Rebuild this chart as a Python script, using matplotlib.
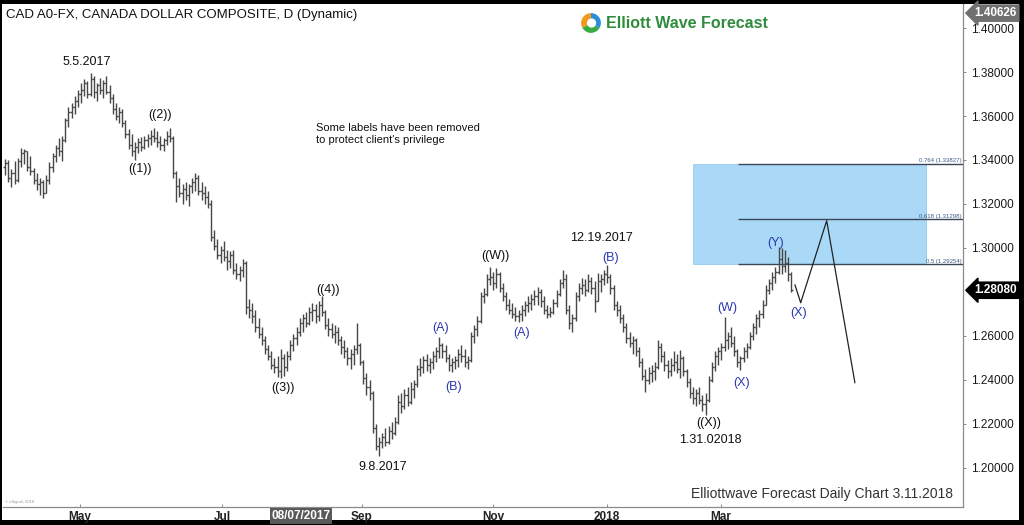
import numpy as np
import matplotlib
matplotlib.use("Agg")
import matplotlib.pyplot as plt
from matplotlib.patches import Rectangle, Wedge, Circle
import matplotlib.transforms as mtransforms

plt.rcParams['font.family'] = ['Liberation Sans', 'DejaVu Sans']

# ---------------- data (daily bars, USD/CAD) ----------------
highs = [1.3405,1.3400,1.3360,1.3395,1.3410,1.3455,1.3450,1.3440,1.3420,1.3365,
         1.3340,1.3320,1.3310,1.3330,1.3390,1.3430,1.3470,1.3500,1.3510,1.3590,
         1.3640,1.3660,1.3690,1.3720,1.3750,1.3770,1.3760,1.3795,1.3780,1.3750,
         1.3775,1.3765,1.3780,1.3740,1.3700,1.3660,1.3640,1.3630,1.3580,1.3540,
         1.3520,1.3480,1.3500,1.3505,1.3510,1.3520,1.3535,1.3545,1.3530,1.3510,
         1.3500,1.3530,1.3545,1.3510,1.3350,1.3320,1.3290,1.3300,1.3290,1.3320,
         1.3340,1.3330,1.3300,1.3280,1.3260,1.3220,1.3080,1.3040,1.3010,1.3030,
         1.2990,1.2985,1.2990,1.2930,1.2920,1.2950,1.2940,1.2770,1.2750,1.2720,
         1.2680,1.2640,1.2600,1.2560,1.2530,1.2500,1.2510,1.2540,1.2520,1.2530,
         1.2580,1.2610,1.2640,1.2680,1.2700,1.2710,1.2730,1.2750,1.2745,1.2760,
         1.2780,1.2720,1.2680,1.2660,1.2650,1.2640,1.2600,1.2580,1.2550,1.2540,
         1.2560,1.2660,1.2570,1.2490,1.2430,1.2400,1.2350,1.2200,1.2140,1.2160,
         1.2180,1.2190,1.2210,1.2230,1.2330,1.2340,1.2360,1.2370,1.2390,1.2400,
         1.2470,1.2500,1.2510,1.2520,1.2500,1.2530,1.2550,1.2595,1.2570,1.2560,
         1.2520,1.2500,1.2510,1.2540,1.2560,1.2540,1.2510,1.2620,1.2650,1.2690,
         1.2800,1.2820,1.2880,1.2914,1.2890,1.2910,1.2890,1.2840,1.2800,1.2770,
         1.2750,1.2730,1.2720,1.2740,1.2760,1.2780,1.2790,1.2810,1.2823,1.2815,
         1.2780,1.2740,1.2730,1.2770,1.2810,1.2860,1.2900,1.2880,1.2740,1.2700,
         1.2800,1.2840,1.2864,1.2860,1.2880,1.2870,1.2850,1.2886,1.2880,1.2900,
         1.2923,1.2880,1.2830,1.2760,1.2740,1.2700,1.2660,1.2620,1.2600,1.2590,
         1.2550,1.2500,1.2450,1.2460,1.2470,1.2480,1.2582,1.2570,1.2530,1.2490,
         1.2500,1.2530,1.2520,1.2536,1.2510,1.2450,1.2410,1.2370,1.2360,1.2370,
         1.2330,1.2340,1.2420,1.2480,1.2530,1.2550,1.2570,1.2686,1.2620,1.2640,
         1.2600,1.2540,1.2510,1.2550,1.2570,1.2620,1.2660,1.2700,1.2720,1.2764,
         1.2830,1.2860,1.2890,1.2914,1.3005,1.3000,1.2990,1.2960,1.2890]
lows = [1.3330,1.3300,1.3275,1.3290,1.3300,1.3370,1.3380,1.3350,1.3330,1.3290,
        1.3265,1.3240,1.3225,1.3250,1.3290,1.3345,1.3390,1.3420,1.3395,1.3480,
        1.3550,1.3590,1.3610,1.3640,1.3660,1.3690,1.3680,1.3690,1.3680,1.3670,
        1.3700,1.3680,1.3700,1.3660,1.3610,1.3580,1.3570,1.3550,1.3500,1.3450,
        1.3420,1.3400,1.3430,1.3440,1.3450,1.3460,1.3470,1.3480,1.3460,1.3445,
        1.3440,1.3470,1.3480,1.3320,1.3210,1.3230,1.3200,1.3220,1.3190,1.3250,
        1.3260,1.3240,1.3220,1.3200,1.3180,1.3030,1.2990,1.2950,1.2930,1.2940,
        1.2900,1.2910,1.2880,1.2860,1.2850,1.2870,1.2700,1.2680,1.2660,1.2620,
        1.2590,1.2560,1.2520,1.2490,1.2450,1.2430,1.2415,1.2410,1.2420,1.2440,
        1.2490,1.2530,1.2560,1.2600,1.2620,1.2640,1.2650,1.2670,1.2660,1.2670,
        1.2690,1.2630,1.2600,1.2590,1.2570,1.2560,1.2520,1.2500,1.2470,1.2450,
        1.2470,1.2520,1.2470,1.2380,1.2330,1.2310,1.2160,1.2080,1.2055,1.2090,
        1.2100,1.2110,1.2130,1.2150,1.2200,1.2250,1.2270,1.2280,1.2290,1.2320,
        1.2370,1.2420,1.2430,1.2440,1.2430,1.2450,1.2480,1.2500,1.2500,1.2480,
        1.2440,1.2436,1.2450,1.2460,1.2480,1.2460,1.2450,1.2480,1.2570,1.2600,
        1.2660,1.2750,1.2780,1.2830,1.2810,1.2820,1.2800,1.2760,1.2720,1.2700,
        1.2680,1.2670,1.2664,1.2670,1.2690,1.2710,1.2720,1.2740,1.2740,1.2730,
        1.2700,1.2680,1.2686,1.2700,1.2730,1.2780,1.2820,1.2700,1.2630,1.2618,
        1.2670,1.2760,1.2790,1.2780,1.2800,1.2790,1.2710,1.2760,1.2800,1.2830,
        1.2840,1.2790,1.2720,1.2690,1.2660,1.2620,1.2570,1.2550,1.2520,1.2510,
        1.2460,1.2400,1.2345,1.2380,1.2390,1.2400,1.2450,1.2480,1.2440,1.2410,
        1.2420,1.2440,1.2430,1.2410,1.2420,1.2370,1.2320,1.2290,1.2280,1.2290,
        1.2260,1.2241,1.2300,1.2390,1.2440,1.2470,1.2490,1.2530,1.2540,1.2550,
        1.2510,1.2460,1.2445,1.2480,1.2500,1.2540,1.2580,1.2610,1.2640,1.2680,
        1.2740,1.2790,1.2810,1.2840,1.2880,1.2880,1.2890,1.2850,1.2800]
closes = [1.3385,1.3320,1.3340,1.3310,1.3395,1.3430,1.3440,1.3370,1.3350,1.3310,
          1.3290,1.3300,1.3250,1.3310,1.3370,1.3420,1.3455,1.3440,1.3490,1.3580,
          1.3620,1.3640,1.3670,1.3700,1.3720,1.3750,1.3700,1.3770,1.3710,1.3740,
          1.3720,1.3750,1.3710,1.3680,1.3630,1.3600,1.3620,1.3570,1.3520,1.3470,
          1.3440,1.3460,1.3480,1.3460,1.3490,1.3500,1.3510,1.3500,1.3480,1.3470,
          1.3490,1.3510,1.3500,1.3340,1.3280,1.3250,1.3270,1.3240,1.3280,1.3300,
          1.3320,1.3260,1.3250,1.3230,1.3200,1.3050,1.3010,1.2970,1.2990,1.2960,
          1.2940,1.2970,1.2900,1.2880,1.2900,1.2930,1.2730,1.2720,1.2690,1.2640,
          1.2610,1.2580,1.2540,1.2510,1.2470,1.2460,1.2440,1.2500,1.2460,1.2510,
          1.2560,1.2590,1.2620,1.2660,1.2680,1.2660,1.2710,1.2720,1.2690,1.2740,
          1.2710,1.2650,1.2630,1.2610,1.2620,1.2580,1.2550,1.2530,1.2500,1.2520,
          1.2540,1.2560,1.2480,1.2410,1.2370,1.2340,1.2180,1.2100,1.2120,1.2140,
          1.2120,1.2170,1.2160,1.2210,1.2300,1.2280,1.2330,1.2300,1.2360,1.2380,
          1.2450,1.2460,1.2490,1.2470,1.2480,1.2510,1.2530,1.2560,1.2530,1.2500,
          1.2470,1.2480,1.2490,1.2520,1.2510,1.2480,1.2490,1.2600,1.2630,1.2670,
          1.2780,1.2790,1.2860,1.2870,1.2840,1.2880,1.2820,1.2780,1.2740,1.2720,
          1.2700,1.2690,1.2700,1.2720,1.2740,1.2750,1.2770,1.2780,1.2800,1.2760,
          1.2720,1.2700,1.2710,1.2750,1.2790,1.2840,1.2860,1.2720,1.2660,1.2680,
          1.2780,1.2820,1.2830,1.2810,1.2850,1.2820,1.2760,1.2850,1.2860,1.2880,
          1.2870,1.2820,1.2740,1.2720,1.2680,1.2640,1.2590,1.2570,1.2580,1.2530,
          1.2480,1.2420,1.2400,1.2430,1.2440,1.2460,1.2550,1.2510,1.2470,1.2440,
          1.2470,1.2480,1.2450,1.2500,1.2440,1.2390,1.2340,1.2320,1.2340,1.2310,
          1.2290,1.2310,1.2400,1.2460,1.2510,1.2530,1.2550,1.2580,1.2600,1.2570,
          1.2530,1.2480,1.2500,1.2530,1.2550,1.2600,1.2640,1.2680,1.2700,1.2740,
          1.2810,1.2840,1.2870,1.2890,1.2950,1.2920,1.2930,1.2880,1.2808]
first_open = 1.3370

# projected path (bar index, price)
proj_idx = [249.2, 251.0, 259.2, 268.1]
proj_price = [1.2832, 1.2751, 1.3124, 1.2388]

# fibonacci extension zone
fib_ratios = ["0.764", "0.618", "0.5"]
fib_levels = [1.33827, 1.31298, 1.29254]
box_idx = [217.0, 290.5]

# month tick labels (bar index positions as shown on the chart)
month_pos = [23.7, 68.5, 112.6, 153.9, 189.9, 225.9]
month_lbl = ["May", "Jul", "Sep", "Nov", "2018", "Mar"]
cursor_pos = 93.4
cursor_lbl = "08/07/2017"

y_ticks = [1.20, 1.22, 1.24, 1.26, 1.30, 1.32, 1.34, 1.36, 1.38, 1.40]
last_price = 1.28080
max_price_tag = 1.40626

black_labels = [("5.5.2017", 25.9, 1.3845), ("((2))", 48.9, 1.3605),
                ("((1))", 42.6, 1.3359), ("((4))", 101.9, 1.2809),
                ("((3))", 87.7, 1.2364), ("9.8.2017", 119.2, 1.2005),
                ("((W))", 154.6, 1.2964), ("12.19.2017", 188.0, 1.3045),
                ("((X))", 222.1, 1.2205), ("1.31.02018", 222.4, 1.2127)]
blue_labels = [("(A)", 137.5, 1.2636), ("(B)", 141.6, 1.2368),
               ("(A)", 162.8, 1.2614), ("(B)", 190.9, 1.2955),
               ("(W)", 227.8, 1.2727), ("(X)", 232.2, 1.2386),
               ("(Y)", 243.2, 1.3023), ("(X)", 250.2, 1.2705)]

# ---------------- figure ----------------
W, H = 1024, 525
fig = plt.figure(figsize=(W / 100, H / 100), dpi=100, facecolor="black")
# white page inside the dark frame
fig.patches.append(Rectangle((2 / W, 5 / H), 1017 / W, 516 / H,
                             transform=fig.transFigure, fc="white", ec="none", zorder=-10))

ax = fig.add_axes([3 / W, 18 / H, 960 / W, 503 / H])
ax.set_facecolor("white")

n = len(closes)
x = np.arange(n)
c = np.array(closes)
o = np.r_[first_open, c[:-1]]
bar_col = "#474747"
ax.vlines(x, lows, highs, color=bar_col, lw=1.0, zorder=3)
ax.hlines(o, x - 0.5, x, color=bar_col, lw=1.0, zorder=3)
ax.hlines(c, x, x + 0.5, color=bar_col, lw=1.0, zorder=3)

# fib zone
ax.add_patch(Rectangle((box_idx[0], fib_levels[2]), box_idx[1] - box_idx[0],
                       fib_levels[0] - fib_levels[2], fc="#a9d9f6", ec="#94cdf0",
                       lw=0.6, zorder=1))
xmin, xmax = -0.63, 302.2
for r, lv in zip(fib_ratios, fib_levels):
    ax.hlines(lv, 231.2, xmax, color="#3a4656", lw=1.0, zorder=2)
    ax.text(xmax - 0.5, lv + 0.0004, f"{r} ({lv:.5f})", ha="right", va="bottom",
            fontsize=4.3, color="#3b5a8a", zorder=4)

# projection
ax.plot(proj_idx, proj_price, color="#222222", lw=0.9, zorder=4)

# labels
for t, xi, yv in black_labels:
    ax.text(xi, yv, t, ha="center", va="center", fontsize=9, color="#111111", zorder=5)
for t, xi, yv in blue_labels:
    ax.text(xi, yv, t, ha="center", va="center", fontsize=9, color="#2b38b0", zorder=5)

ax.set_xlim(xmin, xmax)
ax.set_ylim(1.18227, 1.41091)

# axes styling
for s in ["left", "top"]:
    ax.spines[s].set_visible(False)
for s in ["right", "bottom"]:
    ax.spines[s].set_color("#8a8a8a")
    ax.spines[s].set_linewidth(0.9)
ax.yaxis.tick_right()
ax.set_yticks(y_ticks)
ax.set_yticklabels([f"{v:.5f}" for v in y_ticks])
ax.tick_params(axis="y", direction="out", length=2.5, width=0.7, color="#8a8a8a",
               pad=3, labelsize=8.5, labelcolor="#1a1a1a")
ax.set_xticks(month_pos)
ax.set_xticklabels(month_lbl)
ax.tick_params(axis="x", direction="in", length=2.5, width=0.7, color="#8a8a8a",
               pad=3, labelsize=8.5, labelcolor="#222222")
for lab in ax.get_xticklabels():
    lab.set_fontweight("bold")
    lab.set_family(["Liberation Sans Narrow", "Liberation Sans", "DejaVu Sans"])

# cursor date label
ax.text(cursor_pos, -0.006, cursor_lbl,
        transform=mtransforms.blended_transform_factory(ax.transData, ax.transAxes),
        ha="center", va="top", fontsize=8.5, fontweight="bold", color="white",
        family=["Liberation Sans Narrow", "Liberation Sans", "DejaVu Sans"],
        bbox=dict(boxstyle="square,pad=0.15", fc="#5a5a5a", ec="none"), zorder=6, clip_on=False)

# price tags on right axis
bt = mtransforms.blended_transform_factory(ax.transAxes, ax.transData)
ax.text(1.012, last_price, f"{last_price:.5f}", transform=bt, ha="left", va="center",
        fontsize=8.5, fontweight="bold", color="white", clip_on=False, zorder=6,
        bbox=dict(boxstyle="larrow,pad=0.18", fc="black", ec="black"))
ax.text(1.012, max_price_tag + 0.0005, f"{max_price_tag:.5f}", transform=bt, ha="left", va="center",
        fontsize=8.5, fontweight="bold", color="white", clip_on=False, zorder=6,
        bbox=dict(boxstyle="larrow,pad=0.18", fc="#707070", ec="#707070"))

# title and annotations
fig.text(6 / W, 1 - 15 / H, "CAD A0-FX, CANADA DOLLAR COMPOSITE, D (Dynamic)",
         ha="left", va="center", fontsize=9.5, color="#111111")
ax.text(0.3265, 0.742, "Some labels have been removed\nto protect client's privilege",
        transform=ax.transAxes, ha="left", va="center", fontsize=8, color="#111111",
        linespacing=1.2)
fig.text(953 / W, 1 - 494 / H, "Elliottwave Forecast Daily Chart 3.11.2018",
         ha="right", va="center", fontsize=10, color="#333333",
         family=["Liberation Sans Narrow", "Liberation Sans", "DejaVu Sans"])
fig.text(5 / W, 1 - 502 / H, "© eSignal, 2018", ha="left", va="center",
         fontsize=3, color="#999999")

# logo
lx, ly = 591 / W, 1 - 23 / H
lax = fig.add_axes([lx - 11 / W, ly - 11 / H, 22 / W, 22 / H])
lax.set_xlim(-1, 1); lax.set_ylim(-1, 1); lax.axis("off")
lax.add_patch(Wedge((0, 0), 0.9, 90, 210, fc="#f29a1f", ec="none"))
lax.add_patch(Wedge((0, 0), 0.9, 210, 330, fc="#3aaa45", ec="none"))
lax.add_patch(Wedge((0, 0), 0.9, 330, 450, fc="#2a8fd8", ec="none"))
lax.add_patch(Circle((0.05, 0.0), 0.42, fc="white", ec="none"))
fig.text(606 / W, ly, "Elliott Wave Forecast", ha="left", va="center",
         fontsize=11.5, fontweight="bold", color="#2f8c3c")

fig.savefig("out.png", dpi=100, facecolor=fig.get_facecolor())
